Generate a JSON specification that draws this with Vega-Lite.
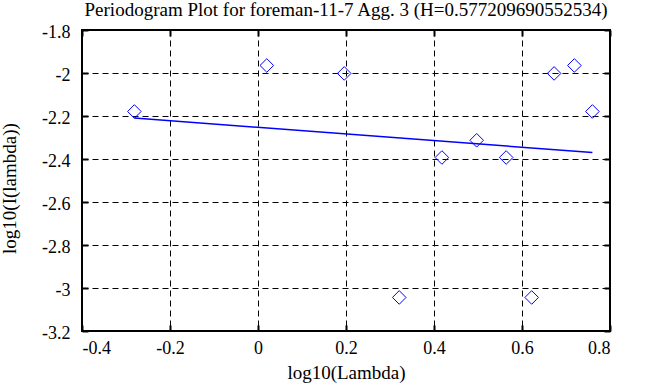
{
  "$schema": "https://vega.github.io/schema/vega-lite/v6.json",
  "width": 528,
  "height": 301,
  "autosize": {"type": "none"},
  "padding": {"left": 82, "top": 30, "right": 53, "bottom": 56},
  "background": "white",
  "title": {
    "text": "Periodogram Plot for foreman-11-7 Agg. 3 (H=0.577209690552534)",
    "font": "Liberation Serif",
    "fontSize": 19,
    "fontWeight": "normal",
    "color": "black",
    "anchor": "middle",
    "offset": 3
  },
  "datasets": {
    "points": [
      {"logLambda": -0.281, "logI": -2.179},
      {"logLambda": 0.020, "logI": -1.965},
      {"logLambda": 0.196, "logI": -2.002},
      {"logLambda": 0.321, "logI": -3.044},
      {"logLambda": 0.418, "logI": -2.393},
      {"logLambda": 0.497, "logI": -2.313},
      {"logLambda": 0.564, "logI": -2.393},
      {"logLambda": 0.622, "logI": -3.044},
      {"logLambda": 0.673, "logI": -2.002},
      {"logLambda": 0.719, "logI": -1.965},
      {"logLambda": 0.760, "logI": -2.179}
    ],
    "fit": [
      {"logLambda": -0.281, "logI": -2.2096},
      {"logLambda": 0.760, "logI": -2.370}
    ]
  },
  "layer": [
    {
      "data": {"name": "points"},
      "mark": {"type": "point", "shape": "diamond", "filled": false, "stroke": "#0000ff", "strokeWidth": 1, "size": 185, "opacity": 1},
      "encoding": {
        "x": {
          "field": "logLambda", "type": "quantitative",
          "scale": {"domain": [-0.4, 0.8], "nice": false, "zero": false},
          "axis": {
            "title": "log10(Lambda)",
            "values": [-0.4, -0.2, 0, 0.2, 0.4, 0.6, 0.8],
            "labelExpr": "'' + datum.value",
            "labelPadding": 14,
            "titlePadding": 6
          }
        },
        "y": {
          "field": "logI", "type": "quantitative",
          "scale": {"domain": [-3.2, -1.8], "nice": false, "zero": false},
          "axis": {
            "title": "log10(I(lambda))",
            "values": [-3.2, -3, -2.8, -2.6, -2.4, -2.2, -2, -1.8],
            "labelExpr": "'' + datum.value",
            "labelPadding": 18,
            "labelOffset": 2,
            "titleX": -73,
            "titleY": 158,
            "titleBaseline": "middle",
            "titleAlign": "center"
          }
        }
      }
    },
    {
      "data": {"name": "fit"},
      "mark": {"type": "line", "color": "#0000ff", "strokeWidth": 1.5},
      "encoding": {
        "x": {
          "field": "logLambda", "type": "quantitative",
          "axis": {"orient": "top", "labels": false, "grid": false, "title": null, "values": [-0.4, -0.2, 0, 0.2, 0.4, 0.6, 0.8]}
        },
        "y": {
          "field": "logI", "type": "quantitative",
          "axis": {"orient": "right", "labels": false, "grid": false, "title": null, "values": [-3.2, -3, -2.8, -2.6, -2.4, -2.2, -2, -1.8]}
        }
      }
    }
  ],
  "resolve": {"axis": {"x": "independent", "y": "independent"}},
  "config": {
    "font": "Liberation Serif",
    "view": {"stroke": "black", "strokeWidth": 2},
    "axis": {
      "domain": false,
      "grid": true,
      "gridColor": "black",
      "gridDash": [6, 4],
      "gridWidth": 1,
      "gridOpacity": 1,
      "ticks": true,
      "tickColor": "black",
      "tickWidth": 2,
      "tickSize": -6,
      "labelFont": "Liberation Serif",
      "labelFontSize": 18,
      "labelColor": "black",
      "titleFont": "Liberation Serif",
      "titleFontSize": 19,
      "titleFontWeight": "normal",
      "titleColor": "black"
    }
  }
}
